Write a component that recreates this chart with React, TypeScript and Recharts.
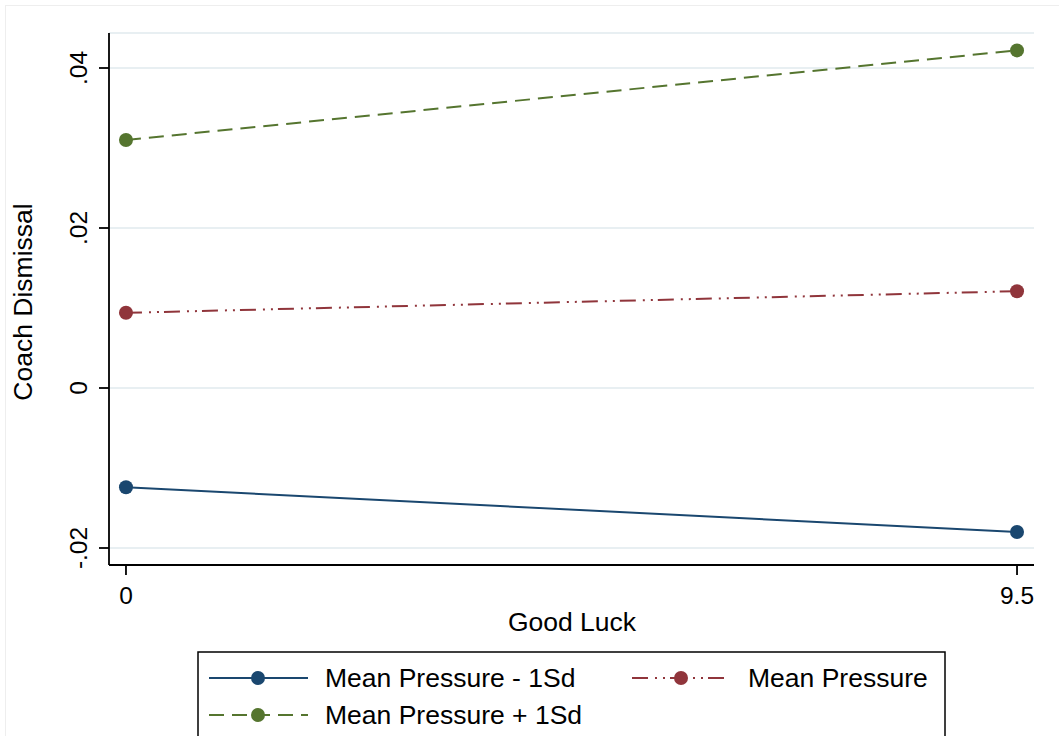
import React from 'react';
import { LineChart, Line, XAxis, YAxis, CartesianGrid } from 'recharts';

const xValues = [0, 9.5];
const xTicks = [0, 9.5];
const xTickLabels = ['0', '9.5'];
const yTicks = [-0.02, 0, 0.02, 0.04];
const yTickLabels = ['-.02', '0', '.02', '.04'];

const lowPressure = [-0.0124, -0.018];
const meanPressure = [0.0094, 0.0121];
const highPressure = [0.031, 0.0422];

const series = [
    { key: 'low', name: 'Mean Pressure - 1Sd', color: '#1a476f', dash: undefined as string | undefined, values: lowPressure },
    { key: 'mean', name: 'Mean Pressure', color: '#90353b', dash: '16 7 2 6 2 5', values: meanPressure },
    { key: 'high', name: 'Mean Pressure + 1Sd', color: '#55752f', dash: '15 8', values: highPressure },
];

const data = xValues.map((x, i) => {
    const row: Record<string, number> = { x };
    series.forEach((s) => {
        row[s.key] = s.values[i];
    });
    return row;
});

const FONT = '"Liberation Sans", Arial, Helvetica, sans-serif';

const YTick = (props: any) => {
    const { x, y, payload } = props;
    const idx = yTicks.indexOf(payload.value);
    const label = idx >= 0 ? yTickLabels[idx] : String(payload.value);
    return (
        <text
            transform={`translate(${x - 10}, ${y}) rotate(-90)`}
            textAnchor="middle"
            fontSize={24.5}
            fontFamily={FONT}
            fill="#000"
        >
            {label}
        </text>
    );
};

const XTick = (props: any) => {
    const { x, y, payload } = props;
    const idx = xTicks.indexOf(payload.value);
    const label = idx >= 0 ? xTickLabels[idx] : String(payload.value);
    return (
        <text x={x} y={y + 27} textAnchor="middle" fontSize={24.5} fontFamily={FONT} fill="#000">
            {label}
        </text>
    );
};

// legend drawn as an overlay so it doesn't eat into the plot area
function LegendBox() {
    const left = 198;
    const top = 652;
    const colW = 423;
    const rowH = 37;
    return (
        <svg
            width={1059}
            height={736}
            style={{ position: 'absolute', left: 0, top: 0, pointerEvents: 'none' }}
        >
            <rect x={left} y={top} width={747} height={120} fill="#fff" stroke="#000" strokeWidth={1.5} />
            {series.map((s, i) => {
                const col = i % 2;
                const row = Math.floor(i / 2);
                const lx = left + 11 + col * colW;
                const cy = top + 26 + row * rowH;
                return (
                    <g key={s.key}>
                        <line
                            x1={lx}
                            x2={lx + 99}
                            y1={cy}
                            y2={cy}
                            stroke={s.color}
                            strokeWidth={2}
                            strokeDasharray={s.dash}
                        />
                        <circle cx={lx + 49} cy={cy} r={7} fill={s.color} />
                        <text x={lx + 116} y={cy + 9} fontSize={26.5} fontFamily={FONT} fill="#000">
                            {s.name}
                        </text>
                    </g>
                );
            })}
        </svg>
    );
}

export default function App() {
    return (
        <div
            style={{
                position: 'relative',
                width: 1059,
                height: 736,
                overflow: 'hidden',
                background: '#fff',
                fontFamily: FONT,
            }}
        >
            <style>{'body{margin:0;}'}</style>
            <div
                style={{
                    position: 'absolute',
                    left: 5,
                    top: 5,
                    width: 1070,
                    height: 760,
                    border: '1px solid #eeeeee',
                }}
            />
            <LineChart
                width={1059}
                height={736}
                data={data}
                margin={{ top: 33, right: 25, left: 49, bottom: 111 }}
                style={{ position: 'absolute', left: 0, top: 0 }}
            >
                <CartesianGrid vertical={false} stroke="#e8eff2" strokeWidth={2} />
                <XAxis
                    dataKey="x"
                    type="number"
                    domain={[-0.181, 9.681]}
                    ticks={xTicks}
                    allowDataOverflow
                    height={60}
                    tickSize={10}
                    tickMargin={2}
                    axisLine={{ stroke: '#000', strokeWidth: 1.8 }}
                    tickLine={{ stroke: '#000', strokeWidth: 1.8 }}
                    tick={<XTick />}
                    label={{
                        content: () => (
                            <text x={572} y={631} textAnchor="middle" fontSize={26.5} fontFamily={FONT} fill="#000">
                                Good Luck
                            </text>
                        ),
                    }}
                />
                <YAxis
                    type="number"
                    domain={[-0.022125, 0.044375]}
                    ticks={yTicks}
                    allowDataOverflow
                    width={60}
                    tickSize={10}
                    tickMargin={2}
                    axisLine={{ stroke: '#000', strokeWidth: 1.8 }}
                    tickLine={{ stroke: '#000', strokeWidth: 1.8 }}
                    tick={<YTick />}
                    label={{
                        content: () => (
                            <text
                                transform="translate(32, 302) rotate(-90)"
                                textAnchor="middle"
                                fontSize={26.5}
                                fontFamily={FONT}
                                fill="#000"
                            >
                                Coach Dismissal
                            </text>
                        ),
                    }}
                />
                {series.map((s) => (
                    <Line
                        key={s.key}
                        type="linear"
                        dataKey={s.key}
                        name={s.name}
                        stroke={s.color}
                        strokeWidth={2}
                        strokeDasharray={s.dash}
                        dot={{ r: 7, fill: s.color, stroke: s.color, strokeWidth: 0 }}
                        activeDot={false}
                        isAnimationActive={false}
                    />
                ))}
            </LineChart>
            <LegendBox />
        </div>
    );
}
